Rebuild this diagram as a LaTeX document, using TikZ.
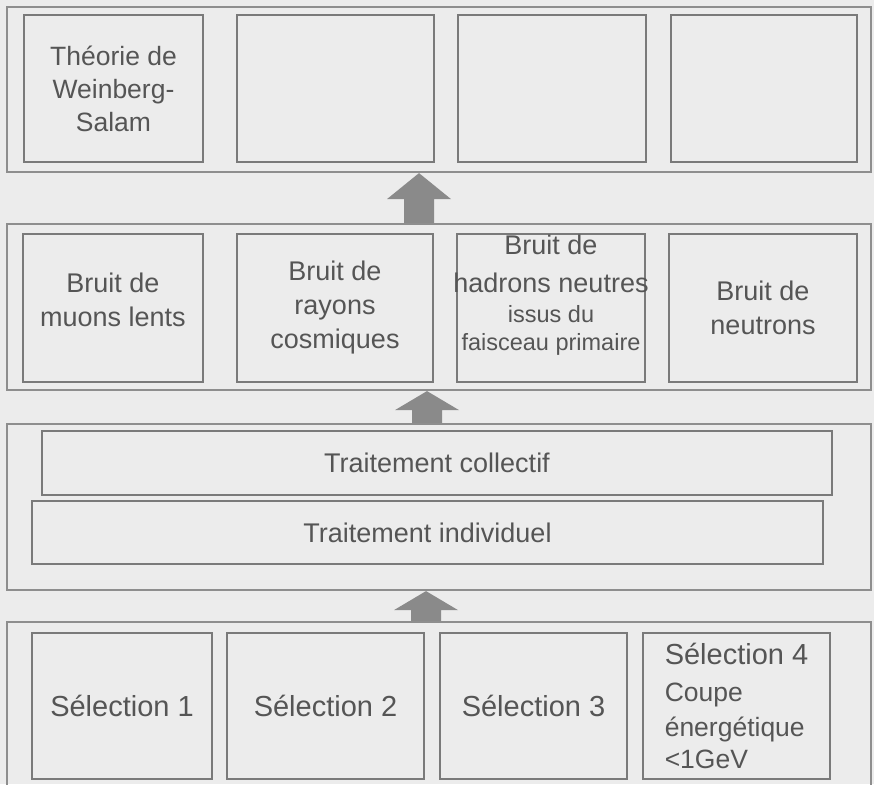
\documentclass[tikz,border=0pt]{standalone}
\usepackage{fontspec}
\setmainfont{Liberation Sans}
\usetikzlibrary{calc}
\definecolor{bg}{HTML}{ECECEC}
\definecolor{frameC}{HTML}{8E8E8E}
\definecolor{boxC}{HTML}{7A7A7A}
\definecolor{txt}{HTML}{555555}
\definecolor{arrC}{HTML}{8A8A8A}
\newcommand\fMain{\fontsize{27}{34}\selectfont}
\newcommand\fTop{\fontsize{26.5}{33}\selectfont}
\newcommand\fSmall{\fontsize{23.5}{29}\selectfont}
\newcommand\fSel{\fontsize{29}{35}\selectfont}
\newcommand\fCoupe{\fontsize{26.5}{34}\selectfont}
\newcommand\fatarrow[3]{%
  \fill[arrC] ($(#1)+(-15,0)$) -- ($(#2)+(-15,-#3)$) -- ($(#2)+(-32,-#3)$) -- (#2)
    -- ($(#2)+(32,-#3)$) -- ($(#2)+(15,-#3)$) -- ($(#1)+(15,0)$) -- cycle;}
\begin{document}
\begin{tikzpicture}[x=1pt,y=1pt,
  frame/.style={draw=frameC, line width=2.2pt, minimum width=864pt, inner sep=0pt},
  box/.style={draw=boxC, line width=2.6pt, inner sep=0pt, text=txt, align=center},
  lbl/.style={inner sep=0pt, text=txt, align=center}]
\useasboundingbox (0,0) rectangle (874,784);
\clip (0,0) rectangle (874,784);
\fill[bg] (0,0) rectangle (874,784);

% frames
\node[frame, minimum height=165pt] (f1) at (439,694.5) {};
\node[frame, minimum height=166pt] (f2) at (439,477) {};
\node[frame, minimum height=166pt] (f3) at (439,277) {};
\node[frame, minimum height=170pt] (f4) at (439,77) {};

% top row
\node[box, minimum width=179pt, minimum height=147pt, font=\fTop] (b11) at (113.5,695.5) {Théorie de\\Weinberg-\\Salam};
\node[box, minimum width=197pt, minimum height=147pt] (b12) at (335.5,695.5) {};
\node[box, minimum width=188pt, minimum height=147pt] (b13) at (552,695.5) {};
\node[box, minimum width=186pt, minimum height=147pt] (b14) at (764,695.5) {};

% middle row
\node[box, minimum width=180pt, minimum height=148pt] (b21) at (113,476) {};
\node[lbl, font=\fMain] (t21) at (113,484) {Bruit de\\muons lents};
\node[box, minimum width=196pt, minimum height=148pt, font=\fMain] (b22) at (335,476) {Bruit de\\rayons\\cosmiques};
\node[box, minimum width=188pt, minimum height=148pt] (b23) at (551,476) {};
\node[lbl, font=\fMain] (t23) at (551,489) {Bruit de\\[4pt]hadrons neutres\\[-4pt]\fSmall issus du\\[-6pt]\fSmall faisceau primaire};
\node[box, minimum width=188pt, minimum height=148pt, font=\fMain] (b24) at (763,476) {Bruit de\\neutrons};

% treatment layer
\node[box, minimum width=790pt, minimum height=64pt, font=\fMain] (tc) at (437,321) {Traitement collectif};
\node[box, minimum width=791pt, minimum height=63pt, font=\fMain] (ti) at (427.5,251.5) {Traitement individuel};

% bottom row
\node[box, minimum width=180pt, minimum height=146pt, font=\fSel] (s1) at (122,78) {Sélection 1};
\node[box, minimum width=197pt, minimum height=146pt, font=\fSel] (s2) at (325.5,78) {Sélection 2};
\node[box, minimum width=187pt, minimum height=146pt, font=\fSel] (s3) at (533.5,78) {Sélection 3};
\node[box, minimum width=187pt, minimum height=146pt, align=left, font=\fCoupe] (s4) at (736.5,78) {\fSel Sélection 4\\[3pt]Coupe\\[1pt]énergétique\\[-2pt]<1GeV};

% arrows
\path (f2.north) ++(-20,0) coordinate (a1s);
\path (f1.south) ++(-20,0) coordinate (a1e);
\path (f3.north) ++(-12,0) coordinate (a2s);
\path (f2.south) ++(-12,0) coordinate (a2e);
\path (f4.north) ++(-13,0) coordinate (a3s);
\path (f3.south) ++(-13,0) coordinate (a3e);
\fatarrow{a1s}{a1e}{26}
\fatarrow{a2s}{a2e}{19}
\fatarrow{a3s}{a3e}{19}
\end{tikzpicture}
\end{document}
